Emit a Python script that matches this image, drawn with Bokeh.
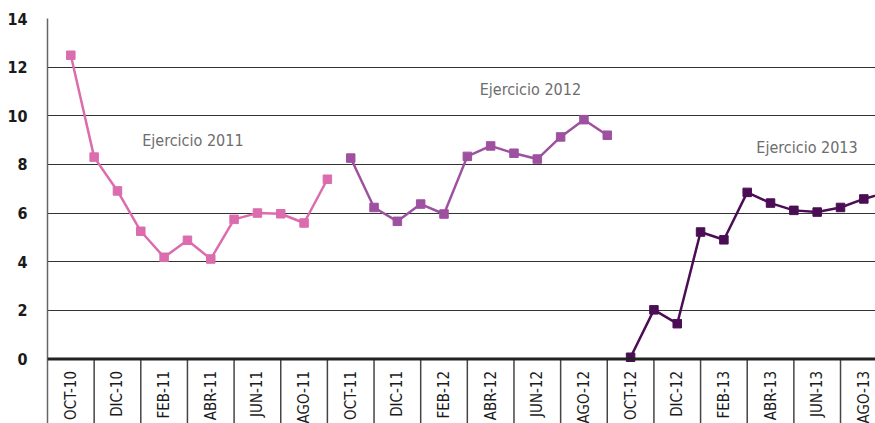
import math
from bokeh.plotting import figure
from bokeh.models import ColumnDataSource, FixedTicker, Label, Span
from bokeh.core.properties import value
from bokeh.embed import file_html
from bokeh.resources import INLINE

# ---- data ----
months = ["OCT-10", "NOV-10", "DIC-10", "ENE-11", "FEB-11", "MAR-11", "ABR-11", "MAY-11",
          "JUN-11", "JUL-11", "AGO-11", "SEP-11", "OCT-11", "NOV-11", "DIC-11", "ENE-12",
          "FEB-12", "MAR-12", "ABR-12", "MAY-12", "JUN-12", "JUL-12", "AGO-12", "SEP-12",
          "OCT-12", "NOV-12", "DIC-12", "ENE-13", "FEB-13", "MAR-13", "ABR-13", "MAY-13",
          "JUN-13", "JUL-13", "AGO-13", "SEP-13"]

v2011 = [12.49, 8.30, 6.91, 5.25, 4.18, 4.88, 4.11, 5.74, 6.00, 5.97, 5.59, 7.39]
v2012 = [8.26, 6.23, 5.66, 6.37, 5.96, 8.33, 8.76, 8.46, 8.22, 9.13, 9.84, 9.20]
v2013 = [0.07, 2.02, 1.45, 5.22, 4.90, 6.85, 6.41, 6.11, 6.04, 6.23, 6.58, 6.85]

series_names = ["Ejercicio 2011", "Ejercicio 2012", "Ejercicio 2013"]
colors = ["#DB6CAD", "#9E51A0", "#4B0E55"]
y_ticks = [0, 2, 4, 6, 8, 10, 12, 14]

FONT = "DejaVu Sans Condensed"
Y_BOTTOM = -2.654   # room below zero for the month labels

p = figure(width=875, height=423, x_range=(-1, 34.5), y_range=(Y_BOTTOM, 14.0),
           output_backend="svg", toolbar_location=None,
           min_border_left=47, min_border_right=0, min_border_top=18, min_border_bottom=0)
p.outline_line_color = None
p.background_fill_color = "white"
p.border_fill_color = "white"
p.xaxis.visible = False

# grid
p.xgrid.grid_line_color = None
p.ygrid.ticker = FixedTicker(ticks=y_ticks)
p.ygrid.grid_line_color = "#333333"
p.ygrid.grid_line_width = 1

# y axis
p.yaxis.ticker = FixedTicker(ticks=y_ticks)
p.yaxis.major_tick_out = 0
p.yaxis.major_tick_in = 0
p.yaxis.minor_tick_out = 0
p.yaxis.axis_line_color = "#666666"
p.yaxis.axis_line_width = 1.5
p.yaxis.major_label_standoff = 20
p.yaxis.major_label_text_font = FONT
p.yaxis.major_label_text_font_style = "bold"
p.yaxis.major_label_text_font_size = "16px"
p.yaxis.major_label_text_color = "#1a1a1a"

# category band separators and month labels (every other month)
label_idx = list(range(0, len(months), 2))
sep_idx = list(range(1, len(months), 2))
sep_src = ColumnDataSource(dict(x=sep_idx, y0=[Y_BOTTOM] * len(sep_idx), y1=[0] * len(sep_idx)))
p.segment(x0="x", y0="y0", x1="x", y1="y1", source=sep_src,
          line_color="#444444", line_width=1.5)
lab_src = ColumnDataSource(dict(x=label_idx, y=[0] * len(label_idx),
                                t=[months[i] for i in label_idx]))
p.text(x="x", y="y", text="t", source=lab_src, angle=math.pi / 2, y_offset=12,
       text_align="right", text_baseline="middle", text_font=value(FONT),
       text_font_size="15px", text_color="#1a1a1a")

# zero axis line
p.add_layout(Span(location=0, dimension="width", line_color="#222222", line_width=3))

# series
for k, vals in enumerate([v2011, v2012, v2013]):
    start = 12 * k
    xs = list(range(start, start + len(vals)))
    src = ColumnDataSource(dict(x=xs, y=vals, m=months[start:start + len(vals)]))
    p.line("x", "y", source=src, line_color=colors[k], line_width=2.5)
    p.scatter("x", "y", source=src, marker="square", size=8.5,
              fill_color=colors[k], line_color=colors[k])

# annotations
for name, (lx, ly) in zip(series_names, [(3.06, 8.99), (17.53, 11.08), (29.39, 8.69)]):
    p.add_layout(Label(x=lx, y=ly, text=name, text_font=FONT, text_font_size="16px",
                       text_color="#6d6d6d", text_baseline="middle", text_align="left"))

open("out.html", "w").write(file_html(p, INLINE))
